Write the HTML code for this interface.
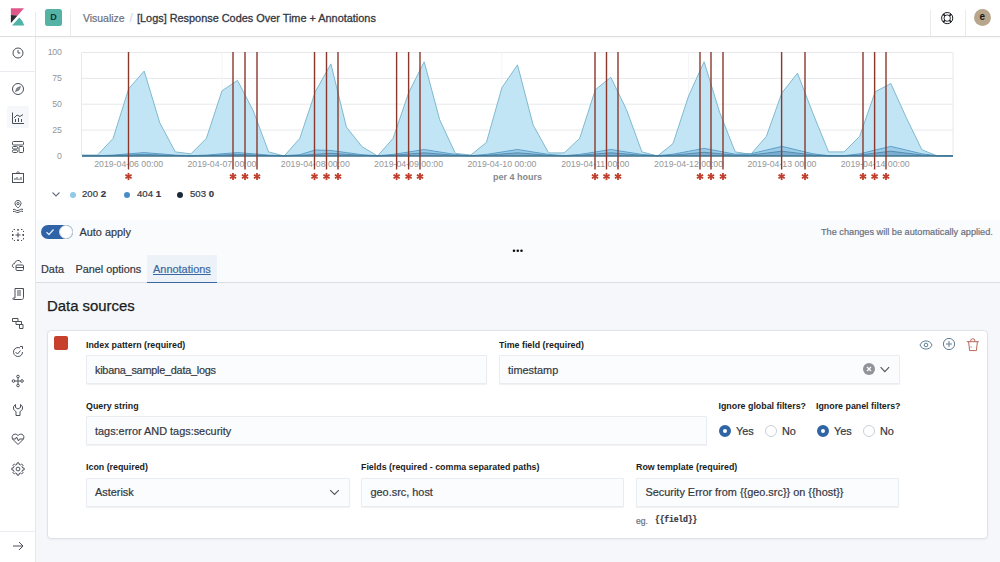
<!DOCTYPE html>
<html><head><meta charset="utf-8">
<style>
*{box-sizing:border-box;margin:0;padding:0}
html,body{width:1000px;height:562px;overflow:hidden;background:#fff;font-family:"Liberation Sans",sans-serif;color:#343741}
.abs{position:absolute}
.hdr{position:absolute;left:0;top:0;width:1000px;height:36.6px;background:#fff;border-bottom:1.2px solid #dcdddf;box-shadow:0 1px 2px rgba(0,0,0,.04)}
.vsep{position:absolute;width:1px;background:#eaebed}
.nav{position:absolute;left:0;top:36.6px;width:36px;height:526px;background:#fff;border-right:1px solid #e4e7ec}
.nav svg{position:absolute;left:11px;width:14px;height:14px}
.chart{position:absolute;left:0;top:0}
.ctrl{position:absolute;left:36px;top:220px;width:964px;height:62.8px;background:#fafbfd;border-bottom:1.6px solid #dadee3}
.lower{position:absolute;left:36px;top:282.5px;width:964px;height:279px;background:#f5f7fa}
.t{position:absolute;white-space:nowrap;line-height:1;-webkit-text-stroke:0.2px currentColor}
.lbl{position:absolute;white-space:nowrap;line-height:1;font-size:8.85px;font-weight:bold;color:#1a1c21}
.inp{position:absolute;background:#fbfcfd;border:1px solid #e9ecf1;box-shadow:0 1px 1px rgba(0,0,0,.06);border-radius:1px}
.inp .t{font-size:10.9px;color:#343741}
.card{position:absolute;left:47px;top:330px;width:941px;height:209px;background:#fff;border:1px solid #dfe3e9;border-radius:4px;box-shadow:0 1px 2px rgba(0,0,0,.05)}
.radio{position:absolute;width:12px;height:12px;border-radius:50%;background:#fff;border:1px solid #c9d0da}
.radio.on{background:#fff;border:4px solid #2f65a5}
</style></head>
<body>
<svg class="chart" width="1000" height="220" viewBox="0 0 1000 220">
<line x1="82" x2="953" y1="52.5" y2="52.5" stroke="#e6e8eb" stroke-width="1"/>
<line x1="82" x2="953" y1="78.4" y2="78.4" stroke="#e6e8eb" stroke-width="1"/>
<line x1="82" x2="953" y1="104.2" y2="104.2" stroke="#e6e8eb" stroke-width="1"/>
<line x1="82" x2="953" y1="130.1" y2="130.1" stroke="#e6e8eb" stroke-width="1"/>
<line x1="953" x2="953" y1="52.5" y2="156" stroke="#e6e8eb" stroke-width="1"/>
<line x1="81.5" x2="81.5" y1="52.5" y2="156" stroke="#e6e8eb" stroke-width="1"/>
<line x1="128.7" x2="128.7" y1="52.5" y2="156" stroke="#f3f4f6" stroke-width="1"/>
<line x1="222.0" x2="222.0" y1="52.5" y2="156" stroke="#f3f4f6" stroke-width="1"/>
<line x1="315.3" x2="315.3" y1="52.5" y2="156" stroke="#f3f4f6" stroke-width="1"/>
<line x1="408.6" x2="408.6" y1="52.5" y2="156" stroke="#f3f4f6" stroke-width="1"/>
<line x1="501.9" x2="501.9" y1="52.5" y2="156" stroke="#f3f4f6" stroke-width="1"/>
<line x1="595.3" x2="595.3" y1="52.5" y2="156" stroke="#f3f4f6" stroke-width="1"/>
<line x1="688.6" x2="688.6" y1="52.5" y2="156" stroke="#f3f4f6" stroke-width="1"/>
<line x1="781.9" x2="781.9" y1="52.5" y2="156" stroke="#f3f4f6" stroke-width="1"/>
<line x1="875.2" x2="875.2" y1="52.5" y2="156" stroke="#f3f4f6" stroke-width="1"/>
<path d="M82,156 L82.0,155.0 97.6,155.0 113.1,138.4 128.7,88.7 144.2,71.1 159.8,122.9 175.3,151.9 190.9,153.9 206.4,138.4 222.0,90.8 237.5,80.4 253.1,110.5 268.6,151.9 284.2,156.0 299.8,138.4 315.3,91.8 330.9,63.9 346.4,127.0 362.0,146.7 377.5,156.0 393.1,138.4 408.6,92.9 424.2,61.8 439.7,119.8 455.3,153.4 470.8,155.0 486.4,142.5 501.9,87.7 517.5,64.9 533.1,125.0 548.6,152.9 564.2,152.9 579.7,138.4 595.3,89.8 610.8,77.3 626.4,109.4 641.9,151.9 657.5,156.0 673.0,143.6 688.6,96.0 704.1,61.8 719.7,112.5 735.2,151.9 750.8,154.4 766.4,136.3 781.9,92.9 797.5,73.2 813.0,113.6 828.6,151.9 844.1,151.9 859.7,136.3 875.2,91.8 890.8,83.5 906.3,117.7 921.9,149.8 937.4,156.0 953.0,156.0 L953,156 Z" fill="#bfe4f6" fill-opacity="0.95" stroke="none"/>
<polyline points="82.0,155.0 97.6,155.0 113.1,138.4 128.7,88.7 144.2,71.1 159.8,122.9 175.3,151.9 190.9,153.9 206.4,138.4 222.0,90.8 237.5,80.4 253.1,110.5 268.6,151.9 284.2,156.0 299.8,138.4 315.3,91.8 330.9,63.9 346.4,127.0 362.0,146.7 377.5,156.0 393.1,138.4 408.6,92.9 424.2,61.8 439.7,119.8 455.3,153.4 470.8,155.0 486.4,142.5 501.9,87.7 517.5,64.9 533.1,125.0 548.6,152.9 564.2,152.9 579.7,138.4 595.3,89.8 610.8,77.3 626.4,109.4 641.9,151.9 657.5,156.0 673.0,143.6 688.6,96.0 704.1,61.8 719.7,112.5 735.2,151.9 750.8,154.4 766.4,136.3 781.9,92.9 797.5,73.2 813.0,113.6 828.6,151.9 844.1,151.9 859.7,136.3 875.2,91.8 890.8,83.5 906.3,117.7 921.9,149.8 937.4,156.0 953.0,156.0" fill="none" stroke="#80b9ce" stroke-width="1"/>
<path d="M82,156 L82.0,155.7 97.6,155.7 113.1,155.1 128.7,153.8 144.2,152.6 159.8,153.8 175.3,155.1 190.9,155.7 206.4,155.1 222.0,153.8 237.5,152.6 253.1,153.8 268.6,155.1 284.2,155.7 299.8,154.7 315.3,150.0 330.9,150.5 346.4,152.6 362.0,154.7 377.5,155.7 393.1,154.4 408.6,152.0 424.2,149.5 439.7,152.0 455.3,154.4 470.8,155.7 486.4,154.4 501.9,152.0 517.5,149.5 533.1,152.0 548.6,154.4 564.2,155.7 579.7,154.4 595.3,152.0 610.8,149.5 626.4,152.0 641.9,154.4 657.5,155.7 673.0,154.2 688.6,151.3 704.1,148.4 719.7,151.3 735.2,154.2 750.8,153.8 766.4,150.1 781.9,146.4 797.5,150.1 813.0,153.8 828.6,155.7 844.1,155.7 859.7,153.8 875.2,150.1 890.8,146.4 906.3,150.1 921.9,153.8 937.4,155.7 953.0,155.7 L953,156 Z" fill="#9acce8" stroke="none"/>
<polyline points="82.0,155.7 97.6,155.7 113.1,155.1 128.7,153.8 144.2,152.6 159.8,153.8 175.3,155.1 190.9,155.7 206.4,155.1 222.0,153.8 237.5,152.6 253.1,153.8 268.6,155.1 284.2,155.7 299.8,154.7 315.3,150.0 330.9,150.5 346.4,152.6 362.0,154.7 377.5,155.7 393.1,154.4 408.6,152.0 424.2,149.5 439.7,152.0 455.3,154.4 470.8,155.7 486.4,154.4 501.9,152.0 517.5,149.5 533.1,152.0 548.6,154.4 564.2,155.7 579.7,154.4 595.3,152.0 610.8,149.5 626.4,152.0 641.9,154.4 657.5,155.7 673.0,154.2 688.6,151.3 704.1,148.4 719.7,151.3 735.2,154.2 750.8,153.8 766.4,150.1 781.9,146.4 797.5,150.1 813.0,153.8 828.6,155.7 844.1,155.7 859.7,153.8 875.2,150.1 890.8,146.4 906.3,150.1 921.9,153.8 937.4,155.7 953.0,155.7" fill="none" stroke="#5d9fc9" stroke-width="1"/>
<path d="M82,156 L82.0,155.9 97.6,155.9 113.1,155.6 128.7,155.0 144.2,154.3 159.8,155.0 175.3,155.6 190.9,155.9 206.4,155.6 222.0,155.0 237.5,154.3 253.1,155.0 268.6,155.6 284.2,155.9 299.8,155.4 315.3,154.3 330.9,153.3 346.4,154.3 362.0,155.4 377.5,155.9 393.1,155.3 408.6,154.0 424.2,152.8 439.7,154.0 455.3,155.3 470.8,155.9 486.4,155.3 501.9,154.0 517.5,152.8 533.1,154.0 548.6,155.3 564.2,155.9 579.7,155.3 595.3,154.0 610.8,152.8 626.4,154.0 641.9,155.3 657.5,155.9 673.0,155.2 688.6,153.7 704.1,152.3 719.7,153.7 735.2,155.2 750.8,155.0 766.4,153.1 781.9,151.2 797.5,153.1 813.0,155.0 828.6,155.9 844.1,155.9 859.7,155.0 875.2,153.1 890.8,151.2 906.3,153.1 921.9,155.0 937.4,155.9 953.0,155.9 L953,156 Z" fill="#7aaed0" stroke="none"/>
<polyline points="82.0,155.9 97.6,155.9 113.1,155.6 128.7,155.0 144.2,154.3 159.8,155.0 175.3,155.6 190.9,155.9 206.4,155.6 222.0,155.0 237.5,154.3 253.1,155.0 268.6,155.6 284.2,155.9 299.8,155.4 315.3,154.3 330.9,153.3 346.4,154.3 362.0,155.4 377.5,155.9 393.1,155.3 408.6,154.0 424.2,152.8 439.7,154.0 455.3,155.3 470.8,155.9 486.4,155.3 501.9,154.0 517.5,152.8 533.1,154.0 548.6,155.3 564.2,155.9 579.7,155.3 595.3,154.0 610.8,152.8 626.4,154.0 641.9,155.3 657.5,155.9 673.0,155.2 688.6,153.7 704.1,152.3 719.7,153.7 735.2,155.2 750.8,155.0 766.4,153.1 781.9,151.2 797.5,153.1 813.0,155.0 828.6,155.9 844.1,155.9 859.7,155.0 875.2,153.1 890.8,151.2 906.3,153.1 921.9,155.0 937.4,155.9 953.0,155.9" fill="none" stroke="#4a80a5" stroke-width="0.8"/>
<line x1="82" x2="953" y1="156.0" y2="156.0" stroke="#3e7391" stroke-width="1.6"/>
<text x="61.5" y="55.3" text-anchor="end" font-size="8.8" letter-spacing="-0.3" fill="#939699">100</text>
<text x="61.5" y="81.2" text-anchor="end" font-size="8.8" letter-spacing="-0.3" fill="#939699">75</text>
<text x="61.5" y="107.0" text-anchor="end" font-size="8.8" letter-spacing="-0.3" fill="#939699">50</text>
<text x="61.5" y="132.9" text-anchor="end" font-size="8.8" letter-spacing="-0.3" fill="#939699">25</text>
<text x="61.5" y="158.8" text-anchor="end" font-size="8.8" letter-spacing="-0.3" fill="#939699">0</text>
<text x="128.7" y="166.8" text-anchor="middle" font-size="8.74" fill="#939699">2019-04-06 00:00</text>
<text x="222.0" y="166.8" text-anchor="middle" font-size="8.74" fill="#939699">2019-04-07 00:00</text>
<text x="315.3" y="166.8" text-anchor="middle" font-size="8.74" fill="#939699">2019-04-08 00:00</text>
<text x="408.6" y="166.8" text-anchor="middle" font-size="8.74" fill="#939699">2019-04-09 00:00</text>
<text x="501.9" y="166.8" text-anchor="middle" font-size="8.74" fill="#939699">2019-04-10 00:00</text>
<text x="595.3" y="166.8" text-anchor="middle" font-size="8.74" fill="#939699">2019-04-11 00:00</text>
<text x="688.6" y="166.8" text-anchor="middle" font-size="8.74" fill="#939699">2019-04-12 00:00</text>
<text x="781.9" y="166.8" text-anchor="middle" font-size="8.74" fill="#939699">2019-04-13 00:00</text>
<text x="875.2" y="166.8" text-anchor="middle" font-size="8.74" fill="#939699">2019-04-14 00:00</text>
<text x="517.5" y="179.5" text-anchor="middle" font-size="9" font-weight="bold" fill="#85898e">per 4 hours</text>
<line x1="128.5" x2="128.5" y1="52" y2="169.5" stroke="#8a382c" stroke-width="1.4"/>
<line x1="128.50" y1="172.90" x2="128.50" y2="180.10" stroke="#bf3f2c" stroke-width="1.8"/>
<line x1="125.38" y1="174.70" x2="131.62" y2="178.30" stroke="#bf3f2c" stroke-width="1.8"/>
<line x1="131.62" y1="174.70" x2="125.38" y2="178.30" stroke="#bf3f2c" stroke-width="1.8"/>
<line x1="233" x2="233" y1="52" y2="169.5" stroke="#8a382c" stroke-width="1.4"/>
<line x1="233.00" y1="172.90" x2="233.00" y2="180.10" stroke="#bf3f2c" stroke-width="1.8"/>
<line x1="229.88" y1="174.70" x2="236.12" y2="178.30" stroke="#bf3f2c" stroke-width="1.8"/>
<line x1="236.12" y1="174.70" x2="229.88" y2="178.30" stroke="#bf3f2c" stroke-width="1.8"/>
<line x1="245" x2="245" y1="52" y2="169.5" stroke="#8a382c" stroke-width="1.4"/>
<line x1="245.00" y1="172.90" x2="245.00" y2="180.10" stroke="#bf3f2c" stroke-width="1.8"/>
<line x1="241.88" y1="174.70" x2="248.12" y2="178.30" stroke="#bf3f2c" stroke-width="1.8"/>
<line x1="248.12" y1="174.70" x2="241.88" y2="178.30" stroke="#bf3f2c" stroke-width="1.8"/>
<line x1="257" x2="257" y1="52" y2="169.5" stroke="#8a382c" stroke-width="1.4"/>
<line x1="257.00" y1="172.90" x2="257.00" y2="180.10" stroke="#bf3f2c" stroke-width="1.8"/>
<line x1="253.88" y1="174.70" x2="260.12" y2="178.30" stroke="#bf3f2c" stroke-width="1.8"/>
<line x1="260.12" y1="174.70" x2="253.88" y2="178.30" stroke="#bf3f2c" stroke-width="1.8"/>
<line x1="314.5" x2="314.5" y1="52" y2="169.5" stroke="#8a382c" stroke-width="1.4"/>
<line x1="314.50" y1="172.90" x2="314.50" y2="180.10" stroke="#bf3f2c" stroke-width="1.8"/>
<line x1="311.38" y1="174.70" x2="317.62" y2="178.30" stroke="#bf3f2c" stroke-width="1.8"/>
<line x1="317.62" y1="174.70" x2="311.38" y2="178.30" stroke="#bf3f2c" stroke-width="1.8"/>
<line x1="326.5" x2="326.5" y1="52" y2="169.5" stroke="#8a382c" stroke-width="1.4"/>
<line x1="326.50" y1="172.90" x2="326.50" y2="180.10" stroke="#bf3f2c" stroke-width="1.8"/>
<line x1="323.38" y1="174.70" x2="329.62" y2="178.30" stroke="#bf3f2c" stroke-width="1.8"/>
<line x1="329.62" y1="174.70" x2="323.38" y2="178.30" stroke="#bf3f2c" stroke-width="1.8"/>
<line x1="338" x2="338" y1="52" y2="169.5" stroke="#8a382c" stroke-width="1.4"/>
<line x1="338.00" y1="172.90" x2="338.00" y2="180.10" stroke="#bf3f2c" stroke-width="1.8"/>
<line x1="334.88" y1="174.70" x2="341.12" y2="178.30" stroke="#bf3f2c" stroke-width="1.8"/>
<line x1="341.12" y1="174.70" x2="334.88" y2="178.30" stroke="#bf3f2c" stroke-width="1.8"/>
<line x1="396.6" x2="396.6" y1="52" y2="169.5" stroke="#8a382c" stroke-width="1.4"/>
<line x1="396.60" y1="172.90" x2="396.60" y2="180.10" stroke="#bf3f2c" stroke-width="1.8"/>
<line x1="393.48" y1="174.70" x2="399.72" y2="178.30" stroke="#bf3f2c" stroke-width="1.8"/>
<line x1="399.72" y1="174.70" x2="393.48" y2="178.30" stroke="#bf3f2c" stroke-width="1.8"/>
<line x1="408.6" x2="408.6" y1="52" y2="169.5" stroke="#8a382c" stroke-width="1.4"/>
<line x1="408.60" y1="172.90" x2="408.60" y2="180.10" stroke="#bf3f2c" stroke-width="1.8"/>
<line x1="405.48" y1="174.70" x2="411.72" y2="178.30" stroke="#bf3f2c" stroke-width="1.8"/>
<line x1="411.72" y1="174.70" x2="405.48" y2="178.30" stroke="#bf3f2c" stroke-width="1.8"/>
<line x1="420" x2="420" y1="52" y2="169.5" stroke="#8a382c" stroke-width="1.4"/>
<line x1="420.00" y1="172.90" x2="420.00" y2="180.10" stroke="#bf3f2c" stroke-width="1.8"/>
<line x1="416.88" y1="174.70" x2="423.12" y2="178.30" stroke="#bf3f2c" stroke-width="1.8"/>
<line x1="423.12" y1="174.70" x2="416.88" y2="178.30" stroke="#bf3f2c" stroke-width="1.8"/>
<line x1="595" x2="595" y1="52" y2="169.5" stroke="#8a382c" stroke-width="1.4"/>
<line x1="595.00" y1="172.90" x2="595.00" y2="180.10" stroke="#bf3f2c" stroke-width="1.8"/>
<line x1="591.88" y1="174.70" x2="598.12" y2="178.30" stroke="#bf3f2c" stroke-width="1.8"/>
<line x1="598.12" y1="174.70" x2="591.88" y2="178.30" stroke="#bf3f2c" stroke-width="1.8"/>
<line x1="606.5" x2="606.5" y1="52" y2="169.5" stroke="#8a382c" stroke-width="1.4"/>
<line x1="606.50" y1="172.90" x2="606.50" y2="180.10" stroke="#bf3f2c" stroke-width="1.8"/>
<line x1="603.38" y1="174.70" x2="609.62" y2="178.30" stroke="#bf3f2c" stroke-width="1.8"/>
<line x1="609.62" y1="174.70" x2="603.38" y2="178.30" stroke="#bf3f2c" stroke-width="1.8"/>
<line x1="618" x2="618" y1="52" y2="169.5" stroke="#8a382c" stroke-width="1.4"/>
<line x1="618.00" y1="172.90" x2="618.00" y2="180.10" stroke="#bf3f2c" stroke-width="1.8"/>
<line x1="614.88" y1="174.70" x2="621.12" y2="178.30" stroke="#bf3f2c" stroke-width="1.8"/>
<line x1="621.12" y1="174.70" x2="614.88" y2="178.30" stroke="#bf3f2c" stroke-width="1.8"/>
<line x1="700" x2="700" y1="52" y2="169.5" stroke="#8a382c" stroke-width="1.4"/>
<line x1="700.00" y1="172.90" x2="700.00" y2="180.10" stroke="#bf3f2c" stroke-width="1.8"/>
<line x1="696.88" y1="174.70" x2="703.12" y2="178.30" stroke="#bf3f2c" stroke-width="1.8"/>
<line x1="703.12" y1="174.70" x2="696.88" y2="178.30" stroke="#bf3f2c" stroke-width="1.8"/>
<line x1="711" x2="711" y1="52" y2="169.5" stroke="#8a382c" stroke-width="1.4"/>
<line x1="711.00" y1="172.90" x2="711.00" y2="180.10" stroke="#bf3f2c" stroke-width="1.8"/>
<line x1="707.88" y1="174.70" x2="714.12" y2="178.30" stroke="#bf3f2c" stroke-width="1.8"/>
<line x1="714.12" y1="174.70" x2="707.88" y2="178.30" stroke="#bf3f2c" stroke-width="1.8"/>
<line x1="723" x2="723" y1="52" y2="169.5" stroke="#8a382c" stroke-width="1.4"/>
<line x1="723.00" y1="172.90" x2="723.00" y2="180.10" stroke="#bf3f2c" stroke-width="1.8"/>
<line x1="719.88" y1="174.70" x2="726.12" y2="178.30" stroke="#bf3f2c" stroke-width="1.8"/>
<line x1="726.12" y1="174.70" x2="719.88" y2="178.30" stroke="#bf3f2c" stroke-width="1.8"/>
<line x1="781.6" x2="781.6" y1="52" y2="169.5" stroke="#8a382c" stroke-width="1.4"/>
<line x1="781.60" y1="172.90" x2="781.60" y2="180.10" stroke="#bf3f2c" stroke-width="1.8"/>
<line x1="778.48" y1="174.70" x2="784.72" y2="178.30" stroke="#bf3f2c" stroke-width="1.8"/>
<line x1="784.72" y1="174.70" x2="778.48" y2="178.30" stroke="#bf3f2c" stroke-width="1.8"/>
<line x1="805" x2="805" y1="52" y2="169.5" stroke="#8a382c" stroke-width="1.4"/>
<line x1="805.00" y1="172.90" x2="805.00" y2="180.10" stroke="#bf3f2c" stroke-width="1.8"/>
<line x1="801.88" y1="174.70" x2="808.12" y2="178.30" stroke="#bf3f2c" stroke-width="1.8"/>
<line x1="808.12" y1="174.70" x2="801.88" y2="178.30" stroke="#bf3f2c" stroke-width="1.8"/>
<line x1="863" x2="863" y1="52" y2="169.5" stroke="#8a382c" stroke-width="1.4"/>
<line x1="863.00" y1="172.90" x2="863.00" y2="180.10" stroke="#bf3f2c" stroke-width="1.8"/>
<line x1="859.88" y1="174.70" x2="866.12" y2="178.30" stroke="#bf3f2c" stroke-width="1.8"/>
<line x1="866.12" y1="174.70" x2="859.88" y2="178.30" stroke="#bf3f2c" stroke-width="1.8"/>
<line x1="874.6" x2="874.6" y1="52" y2="169.5" stroke="#8a382c" stroke-width="1.4"/>
<line x1="874.60" y1="172.90" x2="874.60" y2="180.10" stroke="#bf3f2c" stroke-width="1.8"/>
<line x1="871.48" y1="174.70" x2="877.72" y2="178.30" stroke="#bf3f2c" stroke-width="1.8"/>
<line x1="877.72" y1="174.70" x2="871.48" y2="178.30" stroke="#bf3f2c" stroke-width="1.8"/>
<line x1="886" x2="886" y1="52" y2="169.5" stroke="#8a382c" stroke-width="1.4"/>
<line x1="886.00" y1="172.90" x2="886.00" y2="180.10" stroke="#bf3f2c" stroke-width="1.8"/>
<line x1="882.88" y1="174.70" x2="889.12" y2="178.30" stroke="#bf3f2c" stroke-width="1.8"/>
<line x1="889.12" y1="174.70" x2="882.88" y2="178.30" stroke="#bf3f2c" stroke-width="1.8"/>
</svg>
<!-- header -->
<div class="hdr"></div>
<svg class="abs" style="left:10px;top:7px" width="16" height="20" viewBox="0 0 16 20">
  <polygon points="0.9,1.2 14,1.2 7.6,8.6 0.9,7.9" fill="#e0568a"/>
  <polygon points="0.9,7.9 7.6,8.6 0.9,16" fill="#2a2a33"/>
  <path d="M2,18.5 L9.4,10.4 Q12.6,13.2 14.3,18.5 Z" fill="#4fb3a8"/>
</svg>
<div class="vsep" style="left:35px;top:12px;height:24px"></div>
<div class="abs" style="left:45px;top:9px;width:17px;height:17px;background:#54b3a4;border-radius:2.5px;color:#13343a;font-size:9px;font-weight:bold;text-align:center;line-height:17px">D</div>
<div class="vsep" style="left:70px;top:10px;height:26px"></div>
<div class="t" style="left:83px;top:13.5px;font-size:10.45px;color:#69707d">Visualize</div>
<div class="t" style="left:129.5px;top:12px;font-size:12px;color:#d3dae6">/</div>
<div class="t" style="left:137px;top:12.5px;font-size:10.9px;color:#343741;-webkit-text-stroke:0.3px #343741">[Logs] Response Codes Over Time + Annotations</div>
<div class="vsep" style="left:930px;top:10px;height:26px"></div>
<div class="vsep" style="left:965px;top:10px;height:26px"></div>
<svg class="abs" style="left:940px;top:10.5px" width="15" height="15" viewBox="0 0 15 15">
  <circle cx="7.2" cy="7.1" r="5.6" fill="none" stroke="#1a1c21" stroke-width="1"/>
  <circle cx="7.2" cy="7.1" r="3.2" fill="none" stroke="#1a1c21" stroke-width="0.9"/>
  <path d="M3.2 3.1L5 4.9M11.2 3.1L9.4 4.9M3.2 11.1L5 9.3M11.2 11.1L9.4 9.3" stroke="#1a1c21" stroke-width="1.6"/>
</svg>
<div class="abs" style="left:973.7px;top:8.8px;width:17px;height:17px;border-radius:50%;background:#b8a68c;color:#1e1a14;font-size:10px;font-weight:bold;text-align:center;line-height:16.5px">e</div>

<!-- nav -->
<div class="nav"></div>
<div class="abs" style="left:0;top:71px;width:35px;height:1px;background:#e9ecf0"></div>
<div class="abs" style="left:0;top:531px;width:35px;height:1px;background:#e9ecf0"></div>
<div class="abs" style="left:7px;top:106px;width:22px;height:22px;background:#f5f7fa;border-radius:2px"></div>
<svg class="abs" style="left:10.5px;top:46px" width="14" height="14" viewBox="0 0 14 14"><circle cx="7" cy="7" r="5" stroke="#4a4f5a" stroke-width="1" fill="none"/><path d="M7 4V7H9.3" stroke="#4a4f5a" stroke-width="1" fill="none"/></svg>
<svg class="abs" style="left:10.5px;top:82px" width="14" height="14" viewBox="0 0 14 14"><circle cx="7" cy="7" r="5.5" stroke="#4a4f5a" stroke-width="1" fill="none"/><path d="M9.5 4.5L6 6L4.5 9.5L8 8Z" fill="#8a9099" stroke="#4a4f5a" stroke-width="0.6"/></svg>
<svg class="abs" style="left:10.5px;top:111px" width="14" height="14" viewBox="0 0 14 14"><path d="M1.5 1.5V12.5H13" stroke="#4a4f5a" stroke-width="1" fill="none"/><path d="M3 7L6 4L9 5.5L12 3.5" stroke="#4a4f5a" stroke-width="1" fill="none"/><path d="M4.5 11V8M7.5 11V7M10.5 11V8" stroke="#4a4f5a" stroke-width="1" fill="none"/></svg>
<svg class="abs" style="left:10.5px;top:140px" width="14" height="14" viewBox="0 0 14 14"><rect x="1.5" y="1.5" width="11" height="3.5" rx="1" stroke="#4a4f5a" stroke-width="1" fill="none"/><rect x="1.5" y="6.5" width="5" height="2.5" rx="1" stroke="#4a4f5a" stroke-width="1" fill="none"/><rect x="1.5" y="10" width="5" height="2.5" rx="1" stroke="#4a4f5a" stroke-width="1" fill="none"/><rect x="8" y="6.5" width="4.5" height="6" rx="1" stroke="#4a4f5a" stroke-width="1" fill="none"/></svg>
<svg class="abs" style="left:10.5px;top:170px" width="14" height="14" viewBox="0 0 14 14"><rect x="1.5" y="3.5" width="11" height="9" stroke="#4a4f5a" stroke-width="1" fill="none"/><path d="M5 3.5L7 1.5L9 3.5" stroke="#4a4f5a" stroke-width="1" fill="none"/><path d="M4 10V8M6 10V7M8 10V8.5M10 10V7" stroke="#4a4f5a" stroke-width="1" fill="none"/></svg>
<svg class="abs" style="left:10.5px;top:199px" width="14" height="14" viewBox="0 0 14 14"><path d="M7 1.5C5 1.5 4 3 4 4.5C4 6.5 7 9 7 9C7 9 10 6.5 10 4.5C10 3 9 1.5 7 1.5Z" stroke="#4a4f5a" stroke-width="1" fill="none"/><circle cx="7" cy="4.6" r="1.1" stroke="#4a4f5a" stroke-width="1" fill="none"/><path d="M2 10.5C4 9.5 5 12 7 11.5C9 11 10 9.5 12 10.5M2 12.5C4 11.5 5 14 7 13.5C9 13 10 11.5 12 12.5" stroke="#4a4f5a" stroke-width="1" fill="none"/></svg>
<svg class="abs" style="left:10.5px;top:228px" width="14" height="14" viewBox="0 0 14 14"><path d="M4 1.5H3A1.5 1.5 0 0 0 1.5 3V4M10 1.5H11A1.5 1.5 0 0 1 12.5 3V4M1.5 10V11A1.5 1.5 0 0 0 3 12.5H4M12.5 10V11A1.5 1.5 0 0 1 11 12.5H10" stroke="#4a4f5a" stroke-width="1" fill="none" stroke-dasharray="1.5 1.5"/><circle cx="7" cy="1.8" r="0.9" fill="#343741"/><circle cx="7" cy="12.2" r="0.9" fill="#343741"/><circle cx="1.8" cy="7" r="0.9" fill="#343741"/><circle cx="12.2" cy="7" r="0.9" fill="#343741"/><path d="M7 4.5V9.5M4.5 7H9.5" stroke="#4a4f5a" stroke-width="1" fill="none"/></svg>
<svg class="abs" style="left:10.5px;top:258px" width="14" height="14" viewBox="0 0 14 14"><path d="M3 9.5C1.5 9.5 1 8 1.5 7C1.8 6 2.8 5.5 3.5 5.7C4 3.5 6 2 8 2.5C9.5 3 10 4 10.2 5" stroke="#4a4f5a" stroke-width="1" fill="none"/><rect x="5" y="7" width="7.5" height="5.5" rx="1" stroke="#4a4f5a" stroke-width="1" fill="none"/><path d="M5 9.5H12.5" stroke="#4a4f5a" stroke-width="1" fill="none"/></svg>
<svg class="abs" style="left:10.5px;top:287px" width="14" height="14" viewBox="0 0 14 14"><path d="M4 1.5H12.5V10.5C12.5 12 11.5 12.5 10.5 12.5H2.5C1.5 12.5 1.5 11 2.5 11H4Z" stroke="#4a4f5a" stroke-width="1" fill="none"/><path d="M6 4H10M6 6H10M6 8H10" stroke="#4a4f5a" stroke-width="1" fill="none"/><path d="M10.5 1.5C12 1.5 13 2.5 12.5 3.5" stroke="#4a4f5a" stroke-width="1" fill="none"/></svg>
<svg class="abs" style="left:10.5px;top:316px" width="14" height="14" viewBox="0 0 14 14"><path d="M1.5 2.5H7V5.5H1.5Z" stroke="#4a4f5a" stroke-width="1" fill="none"/><path d="M5 5.5H10.5V8.5H5Z" stroke="#4a4f5a" stroke-width="1" fill="none"/><path d="M8.5 8.5H12V12.5H8.5Z" stroke="#4a4f5a" stroke-width="1" fill="none"/></svg>
<svg class="abs" style="left:10.5px;top:345px" width="14" height="14" viewBox="0 0 14 14"><path d="M11.5 7A4.5 4.5 0 1 1 9 3" stroke="#4a4f5a" stroke-width="1" fill="none"/><path d="M4.5 7L6.5 9L9.5 5.5" stroke="#4a4f5a" stroke-width="1" fill="none"/><path d="M9 1.5L11.5 1.5L11.5 4" stroke="#4a4f5a" stroke-width="1" fill="none"/></svg>
<svg class="abs" style="left:10.5px;top:374px" width="14" height="14" viewBox="0 0 14 14"><circle cx="7" cy="2.5" r="1.3" stroke="#4a4f5a" stroke-width="1" fill="none"/><circle cx="7" cy="11.5" r="1.3" stroke="#4a4f5a" stroke-width="1" fill="none"/><circle cx="2.5" cy="7" r="1.3" stroke="#4a4f5a" stroke-width="1" fill="none"/><circle cx="11" cy="7" r="1.3" stroke="#4a4f5a" stroke-width="1" fill="none"/><path d="M7 4V10M4 7H9.5" stroke="#4a4f5a" stroke-width="1" fill="none"/></svg>
<svg class="abs" style="left:10.5px;top:403px" width="14" height="14" viewBox="0 0 14 14"><path d="M4.5 1.5V4.5L7 6L9.5 4.5V1.5C11 2.5 11.5 3.5 11.5 5C11.5 7 10 8 9 8.5V12.5H5V8.5C4 8 2.5 7 2.5 5C2.5 3.5 3 2.5 4.5 1.5Z" stroke="#4a4f5a" stroke-width="1" fill="none"/></svg>
<svg class="abs" style="left:10.5px;top:432px" width="14" height="14" viewBox="0 0 14 14"><path d="M7 12.5L2 7.5C0.5 6 0.8 3.2 3 2.3C4.6 1.7 6 2.5 7 3.7C8 2.5 9.4 1.7 11 2.3C13.2 3.2 13.5 6 12 7.5Z" stroke="#4a4f5a" stroke-width="1" fill="none"/><path d="M1.5 7H4.5L5.5 5L7.5 9L8.5 7H12.5" stroke="#4a4f5a" stroke-width="1" fill="none"/></svg>
<svg class="abs" style="left:10.5px;top:462px" width="14" height="14" viewBox="0 0 14 14"><path d="M13.12 6.03 L13.12 7.97 L11.57 8.10 L11.01 9.46 L12.02 10.64 L10.64 12.02 L9.46 11.01 L8.10 11.57 L7.97 13.12 L6.03 13.12 L5.90 11.57 L4.54 11.01 L3.36 12.02 L1.98 10.64 L2.99 9.46 L2.43 8.10 L0.88 7.97 L0.88 6.03 L2.43 5.90 L2.99 4.54 L1.98 3.36 L3.36 1.98 L4.54 2.99 L5.90 2.43 L6.03 0.88 L7.97 0.88 L8.10 2.43 L9.46 2.99 L10.64 1.98 L12.02 3.36 L11.01 4.54 L11.57 5.90Z" stroke="#4a4f5a" stroke-width="1" fill="none" stroke-linejoin="round"/><circle cx="7" cy="7" r="1.9" stroke="#4a4f5a" stroke-width="1" fill="none"/></svg>
<svg class="abs" style="left:10.5px;top:539px" width="14" height="14" viewBox="0 0 14 14"><path d="M2 7H12M8 3L12 7L8 11" stroke="#4a4f5a" stroke-width="1" fill="none"/></svg>

<!-- control strip -->
<div class="ctrl"></div>
<div class="abs" style="left:41px;top:224.5px;width:31.5px;height:14.5px;border-radius:8px;background:#2f62a6"></div>
<svg class="abs" style="left:45px;top:227px" width="10" height="10" viewBox="0 0 10 10"><path d="M1.5 5.2L4 7.5L8.5 2.5" fill="none" stroke="#d8ecff" stroke-width="1.3"/></svg>
<div class="abs" style="left:58.5px;top:224.5px;width:14.5px;height:14.5px;border-radius:50%;background:#fff;border:1px solid #cfd5dd"></div>
<div class="t" style="left:79.5px;top:227.2px;font-size:10.9px;color:#343741">Auto apply</div>
<div class="t" style="left:821px;top:227.6px;font-size:9.18px;color:#69707d">The changes will be automatically applied.</div>
<svg class="abs" style="left:510px;top:246px" width="16" height="10" viewBox="0 0 16 10"><circle cx="4" cy="4.8" r="1.3" fill="#111"/><circle cx="7.8" cy="4.8" r="1.3" fill="#111"/><circle cx="11.5" cy="4.8" r="1.3" fill="#111"/></svg>
<!-- tabs -->
<div class="abs" style="left:147px;top:255px;width:69.5px;height:27.5px;background:#edf2f8;border-bottom:1.6px solid #3a679b"></div>
<div class="t" style="left:41px;top:263.8px;font-size:10.9px;color:#343741">Data</div>
<div class="t" style="left:75.5px;top:263.8px;font-size:10.85px;color:#343741">Panel options</div>
<div class="t" style="left:153px;top:263.8px;font-size:10.95px;color:#3a68a0;text-decoration:underline">Annotations</div>

<!-- lower -->
<div class="lower"></div>
<div class="t" style="left:47px;top:299px;font-size:14.9px;color:#1a1c21;-webkit-text-stroke:0.25px #1a1c21">Data sources</div>
<div class="card"></div>
<div class="abs" style="left:54px;top:336px;width:14px;height:14px;background:#c6402c;border-radius:2px"></div>
<!-- card icons -->
<svg class="abs" style="left:919px;top:338.5px" width="14" height="12" viewBox="0 0 14 12"><path d="M1 6C3 0.6 11 0.6 13 6C11 11.4 3 11.4 1 6Z" fill="none" stroke="#5f7f95" stroke-width="1"/><circle cx="7" cy="6" r="1.8" fill="none" stroke="#5f7f95" stroke-width="1"/></svg>
<svg class="abs" style="left:942px;top:337.4px" width="14" height="14" viewBox="0 0 14 14"><circle cx="7" cy="7" r="5.6" fill="none" stroke="#627d90" stroke-width="1"/><path d="M7 4V10M4 7H10" stroke="#627d90" stroke-width="1"/></svg>
<svg class="abs" style="left:966px;top:336.5px" width="14" height="15" viewBox="0 0 14 15"><path d="M0.8 4.7H12.8M4.8 4.7V3C4.8 1.4 8.8 1.4 8.8 3V4.7M2.6 4.7L3.6 13.6H10.4L11.4 4.7M4.5 10H5.8" fill="none" stroke="#b9675c" stroke-width="1"/></svg>

<div class="lbl" style="left:86px;top:340.8px">Index pattern (required)</div>
<div class="inp" style="left:85.5px;top:355px;width:401px;height:29px"><div class="t" style="left:8.5px;top:8.7px;letter-spacing:-0.25px">kibana_sample_data_logs</div></div>
<div class="lbl" style="left:499px;top:340.8px">Time field (required)</div>
<div class="inp" style="left:498.5px;top:355px;width:401px;height:29px"><div class="t" style="left:8.5px;top:8.7px">timestamp</div></div>
<svg class="abs" style="left:863px;top:363.3px" width="12" height="12" viewBox="0 0 12 12"><circle cx="6" cy="6" r="6" fill="#909499"/><path d="M4 4L8 8M8 4L4 8" stroke="#fff" stroke-width="1.2"/></svg>
<svg class="abs" style="left:879px;top:366px" width="12" height="8" viewBox="0 0 12 8"><path d="M1.6 1.2L5.85 5.6L10.1 1.2" fill="none" stroke="#4f535c" stroke-width="1.1"/></svg>

<div class="lbl" style="left:86px;top:401.8px">Query string</div>
<div class="inp" style="left:85.5px;top:416px;width:621px;height:29px"><div class="t" style="left:8.5px;top:8.7px">tags:error AND tags:security</div></div>
<div class="lbl" style="left:718.5px;top:401.8px">Ignore global filters?</div>
<div class="lbl" style="left:816px;top:401.8px">Ignore panel filters?</div>
<div class="radio on" style="left:718.5px;top:424.5px"></div>
<div class="t" style="left:736px;top:425.6px;font-size:10.9px">Yes</div>
<div class="radio" style="left:765px;top:424.5px"></div>
<div class="t" style="left:782px;top:425.6px;font-size:10.9px">No</div>
<div class="radio on" style="left:816.5px;top:424.5px"></div>
<div class="t" style="left:834px;top:425.6px;font-size:10.9px">Yes</div>
<div class="radio" style="left:862.5px;top:424.5px"></div>
<div class="t" style="left:880px;top:425.6px;font-size:10.9px">No</div>

<div class="lbl" style="left:86px;top:462.8px">Icon (required)</div>
<div class="inp" style="left:85.5px;top:477.5px;width:264px;height:29px"><div class="t" style="left:8.5px;top:8.7px">Asterisk</div></div>
<svg class="abs" style="left:329px;top:489px" width="12" height="8" viewBox="0 0 12 8"><path d="M1.2 1.2L5.5 5.5L9.8 1.2" fill="none" stroke="#4f535c" stroke-width="1.1"/></svg>
<div class="lbl" style="left:361px;top:462.8px">Fields (required - comma separated paths)</div>
<div class="inp" style="left:361px;top:477.5px;width:263px;height:29px"><div class="t" style="left:8.5px;top:8.7px">geo.src, host</div></div>
<div class="lbl" style="left:636px;top:462.8px">Row template (required)</div>
<div class="inp" style="left:636px;top:477.5px;width:263px;height:29px"><div class="t" style="left:8.5px;top:8.7px">Security Error from {{geo.src}} on {{host}}</div></div>
<div class="t" style="left:636px;top:516.5px;font-size:8.6px;color:#69707d">eg.</div>
<div class="t" style="left:655px;top:516.3px;font-size:8.2px;letter-spacing:-0.25px;font-family:'Liberation Mono',monospace;color:#343741;font-weight:bold">{{field}}</div>

<!-- legend -->
<svg class="abs" style="left:51px;top:191px" width="10" height="7" viewBox="0 0 10 7"><path d="M1.5 1.5L5 5L8.5 1.5" fill="none" stroke="#69707d" stroke-width="1.1"/></svg>
<div class="abs" style="left:70px;top:191.5px;width:6px;height:6px;border-radius:50%;background:#8fcbe6"></div>
<div class="t" style="left:82px;top:188.6px;font-size:9.6px;color:#343741">200 <b>2</b></div>
<div class="abs" style="left:124px;top:191.5px;width:6px;height:6px;border-radius:50%;background:#4a8dc4"></div>
<div class="t" style="left:137px;top:188.6px;font-size:9.6px;color:#343741">404 <b>1</b></div>
<div class="abs" style="left:177px;top:191.5px;width:6px;height:6px;border-radius:50%;background:#1c2838"></div>
<div class="t" style="left:190px;top:188.6px;font-size:9.6px;color:#343741">503 <b>0</b></div>
</body></html>
